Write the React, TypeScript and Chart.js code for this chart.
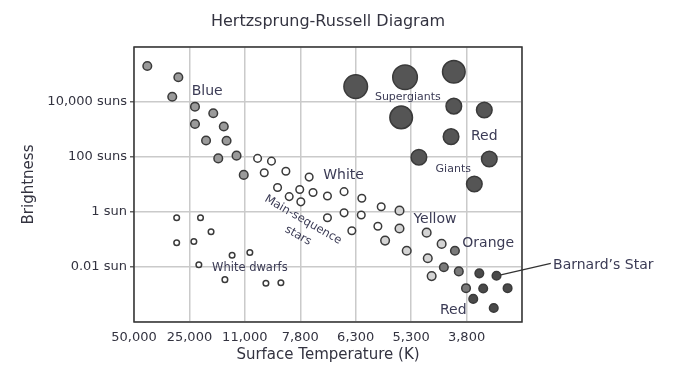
import React, { useEffect, useRef } from 'react';
import { Chart, registerables } from 'chart.js';

Chart.register(...registerables);

// ---- axis tick labels ----
const xTickLabels = ['50,000', '25,000', '11,000', '7,800', '6,300', '5,300', '3,800', ''];
const yTickValues = [-4, -2, 0, 2, 4, 6];
const yTickLabels = ['', '0.01 sun', '1 sun', '100 suns', '10,000 suns', ''];

// ---- stars: [temperature column index, log10 brightness (suns)] ----
const blueStars: [number, number][] = [
  [0.24, 5.31], [0.80, 4.90], [0.69, 4.19], [1.10, 3.83], [1.43, 3.59], [1.10, 3.20],
  [1.62, 3.11], [1.30, 2.60], [1.67, 2.59], [1.52, 1.95], [1.85, 2.05], [1.98, 1.35],
];
const whiteStars: [number, number][] = [
  [2.23, 1.95], [2.48, 1.85], [2.35, 1.43], [2.74, 1.48], [3.16, 1.27], [2.59, 0.89],
  [2.80, 0.56], [2.99, 0.82], [3.01, 0.37], [3.23, 0.71], [3.49, 0.58], [3.79, 0.74],
  [4.11, 0.50], [4.46, 0.19], [3.49, -0.21], [3.79, -0.03], [4.10, -0.11], [3.93, -0.68],
  [4.40, -0.52],
];
const yellowStars: [number, number][] = [
  [4.79, 0.05], [4.79, -0.60], [4.53, -1.04], [5.28, -0.75], [4.92, -1.41], [5.55, -1.16],
  [5.30, -1.68], [5.37, -2.33],
];
const orangeStars: [number, number][] = [
  [5.79, -1.41], [5.59, -2.01], [5.86, -2.16], [5.99, -2.77],
];
const redDwarfs: [number, number][] = [
  [6.23, -2.23], [6.54, -2.32], [6.30, -2.78], [6.74, -2.77], [6.12, -3.16], [6.49, -3.49],
];
const barnardIndex = 1;
const whiteDwarfs: [number, number][] = [
  [0.77, -0.21], [1.20, -0.21], [1.39, -0.72], [0.77, -1.12], [1.08, -1.07], [1.77, -1.57],
  [2.09, -1.47], [1.17, -1.92], [1.64, -2.46], [2.38, -2.59], [2.65, -2.57],
];
const giants: [number, number][] = [
  [5.77, 3.85], [6.32, 3.71], [5.72, 2.74], [5.14, 1.99], [6.41, 1.93], [6.14, 1.02],
];
const supergiants: [number, number][] = [
  [4.00, 4.56], [4.89, 4.90], [5.77, 5.10], [4.82, 3.44],
];

// ---- text annotations (data coordinates) ----
const regionLabels = [
  { text: 'Blue', x: 1.32, y: 4.40, size: 14, rot: 0 },
  { text: 'Supergiants', x: 4.94, y: 4.19, size: 11, rot: 0 },
  { text: 'Red', x: 6.32, y: 2.74, size: 14, rot: 0 },
  { text: 'Giants', x: 5.76, y: 1.55, size: 11, rot: 0 },
  { text: 'White', x: 3.78, y: 1.35, size: 14, rot: 0 },
  { text: 'Main-sequence', x: 3.05, y: -0.29, size: 11.5, rot: 30 },
  { text: 'stars', x: 2.96, y: -0.86, size: 11.5, rot: 30 },
  { text: 'Yellow', x: 5.43, y: -0.27, size: 14, rot: 0 },
  { text: 'Orange', x: 6.39, y: -1.15, size: 14, rot: 0 },
  { text: 'Red', x: 5.76, y: -3.59, size: 14, rot: 0 },
  { text: 'White dwarfs', x: 2.09, y: -2.05, size: 11.5, rot: 0 },
];
const barnardLabel = { text: 'Barnard\u2019s Star', x: 7.56, y: -1.93, lineX: 7.52, lineY: -1.87 };
const chartTitle = 'Hertzsprung-Russell Diagram';

const FONT = "'DejaVu Sans', Verdana, sans-serif";
const LABEL_COLOR = '#3b3b55';
const AXIS_COLOR = '#333340';
const GRID_COLOR = '#cacaca';
const EDGE = '#3a3a3a';

const toPts = (arr: [number, number][]) => arr.map(([x, y]) => ({ x, y }));

const hrPlugin = {
  id: 'hrAnnotations',
  beforeDatasetsDraw(chart: any) {
    const { ctx, scales: { x, y } } = chart;
    const [bx, by] = redDwarfs[barnardIndex];
    ctx.save();
    ctx.strokeStyle = '#333';
    ctx.lineWidth = 1.2;
    ctx.beginPath();
    ctx.moveTo(x.getPixelForValue(bx), y.getPixelForValue(by));
    ctx.lineTo(x.getPixelForValue(barnardLabel.lineX), y.getPixelForValue(barnardLabel.lineY));
    ctx.stroke();
    ctx.restore();
  },
  afterDatasetsDraw(chart: any) {
    const { ctx, scales: { x, y } } = chart;
    ctx.save();
    ctx.fillStyle = LABEL_COLOR;
    ctx.textAlign = 'center';
    ctx.textBaseline = 'middle';
    for (const l of regionLabels) {
      ctx.save();
      ctx.translate(x.getPixelForValue(l.x), y.getPixelForValue(l.y));
      ctx.rotate((l.rot * Math.PI) / 180);
      ctx.font = `${l.size}px ${FONT}`;
      ctx.fillText(l.text, 0, 0);
      ctx.restore();
    }
    ctx.textAlign = 'left';
    ctx.font = `14px ${FONT}`;
    ctx.fillText(barnardLabel.text, x.getPixelForValue(barnardLabel.x), y.getPixelForValue(barnardLabel.y));
    ctx.restore();
  },
  afterDraw(chart: any) {
    const { ctx, chartArea: a } = chart;
    ctx.save();
    ctx.strokeStyle = '#333';
    ctx.lineWidth = 1.5;
    ctx.strokeRect(a.left, a.top, a.right - a.left, a.bottom - a.top);
    ctx.fillStyle = AXIS_COLOR;
    ctx.font = `16px ${FONT}`;
    ctx.textAlign = 'center';
    ctx.textBaseline = 'middle';
    ctx.fillText(chartTitle, (a.left + a.right) / 2, 22);
    ctx.restore();
  },
};

function ds(label: string, data: [number, number][], fill: string, radius: number) {
  return {
    label,
    data: toPts(data),
    backgroundColor: fill,
    borderColor: EDGE,
    borderWidth: 1.5,
    pointRadius: radius,
    pointHoverRadius: radius,
  };
}

export default function App() {
  const ref = useRef<HTMLCanvasElement>(null);
  useEffect(() => {
    if (!ref.current) return;
    Chart.defaults.font.family = FONT;
    const chart = new Chart(ref.current, {
      type: 'scatter',
      data: {
        datasets: [
          { ...ds('Supergiants', supergiants, '#555555', 11.5), pointRadius: [11.8, 12.3, 11.3, 11.3] as any },
          ds('Giants', giants, '#555555', 7.8),
          ds('Blue', blueStars, '#9a9a9a', 4.3),
          ds('White', whiteStars, '#ffffff', 3.8),
          ds('Yellow', yellowStars, '#d4d4d4', 4.3),
          ds('Orange', orangeStars, '#7a7a7a', 4.3),
          ds('Red dwarfs', redDwarfs, '#4a4a4a', 4.3),
          ds('White dwarfs', whiteDwarfs, '#ffffff', 2.8),
        ],
      },
      options: {
        responsive: false,
        animation: false,
        devicePixelRatio: 1,
        layout: { padding: { left: 16, top: 47, right: 161, bottom: 12 } },
        plugins: { legend: { display: false }, tooltip: { enabled: false }, title: { display: false } },
        scales: {
          x: {
            type: 'linear',
            min: 0,
            max: 7,
            afterBuildTicks: (s: any) => { s.ticks = xTickLabels.map((_, i) => ({ value: i })); },
            afterFit: (s: any) => { s.height = 46; },
            ticks: {
              callback: (v: any) => xTickLabels[v] ?? '',
              autoSkip: false,
              maxRotation: 0,
              padding: 8,
              color: AXIS_COLOR,
              font: { size: 13 },
            },
            grid: { color: GRID_COLOR, lineWidth: 1.5, drawTicks: false },
            border: { display: false },
            title: { display: true, text: 'Surface Temperature (K)', color: AXIS_COLOR, font: { size: 15 }, padding: { top: 4, bottom: 4 } },
          },
          y: {
            type: 'linear',
            min: -4,
            max: 6,
            afterBuildTicks: (s: any) => { s.ticks = yTickValues.map((v) => ({ value: v })); },
            afterFit: (s: any) => { s.width = 118; },
            ticks: {
              callback: (v: any) => yTickLabels[yTickValues.indexOf(v)] ?? '',
              padding: 3,
              color: AXIS_COLOR,
              font: { size: 13 },
            },
            grid: {
              color: GRID_COLOR,
              lineWidth: 1.5,
              drawTicks: true,
              tickLength: 4,
              tickColor: (c: any) => (yTickLabels[yTickValues.indexOf(c.tick?.value)] ? '#666' : 'rgba(0,0,0,0)'),
            },
            border: { display: false },
            title: { display: true, text: 'Brightness', color: AXIS_COLOR, font: { size: 15 }, padding: { top: 4, bottom: 4 } },
          },
        },
      },
      plugins: [hrPlugin],
    } as any);
    return () => chart.destroy();
  }, []);
  return (
    <div style={{ position: 'absolute', left: 0, top: 0, width: 683, height: 380, background: '#fff' }}>
      <canvas ref={ref} width={683} height={380} style={{ display: 'block' }} />
    </div>
  );
}
